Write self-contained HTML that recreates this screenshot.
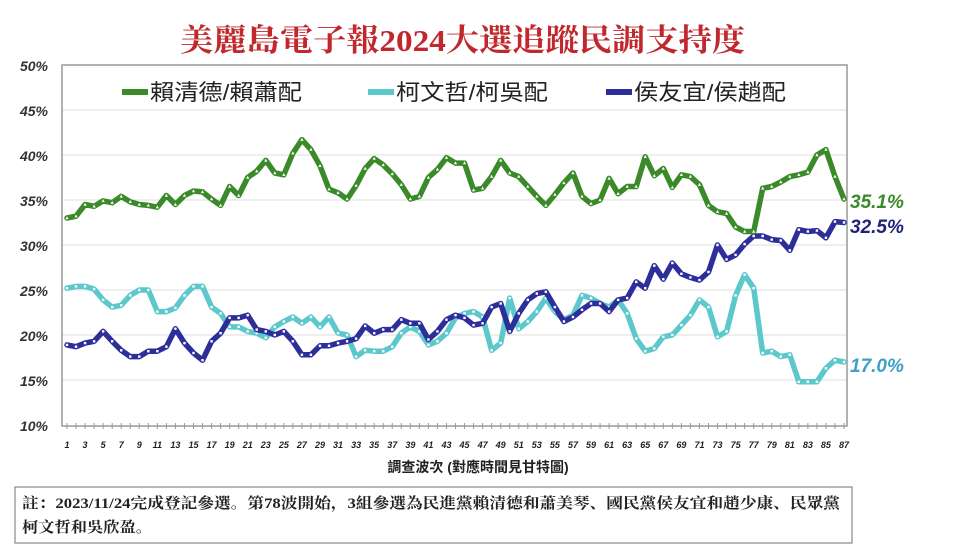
<!DOCTYPE html>
<html><head><meta charset="utf-8">
<style>
body{margin:0;background:#fff;width:970px;height:560px;overflow:hidden;font-family:"Liberation Sans","Noto Sans CJK TC",sans-serif;}
svg{display:block}
</style></head><body>
<svg id="c" width="970" height="560" xmlns="http://www.w3.org/2000/svg">
<text x="180" y="51" textLength="565" lengthAdjust="spacingAndGlyphs" font-family="Liberation Serif,'Noto Serif CJK SC',serif" font-weight="bold" font-size="31" fill="#c0282d">美麗島電子報2024大選追蹤民調支持度</text>
<g id="grid"></g>
<rect x="62" y="65" width="785" height="361" fill="none" stroke="#999" stroke-width="1.5"/>
<g font-size="22" fill="#222">
<line x1="122" y1="92" x2="148" y2="92" stroke="#3a8a2a" stroke-width="6"/><text x="150" y="100" textLength="152" lengthAdjust="spacingAndGlyphs">賴清德/賴蕭配</text>
<line x1="368" y1="92" x2="394" y2="92" stroke="#5cc8cc" stroke-width="6"/><text x="396" y="100" textLength="152" lengthAdjust="spacingAndGlyphs">柯文哲/柯吳配</text>
<line x1="606" y1="92" x2="632" y2="92" stroke="#2e2e9a" stroke-width="6"/><text x="634" y="100" textLength="152" lengthAdjust="spacingAndGlyphs">侯友宜/侯趙配</text>
</g>
<g id="series"></g>
<g font-size="19" font-weight="bold" font-style="italic">
<text x="850" y="208" fill="#3a8a2a">35.1%</text>
<text x="850" y="233" fill="#22227a">32.5%</text>
<text x="850" y="372" fill="#3fa0c8">17.0%</text>
</g>
<text x="478" y="472" text-anchor="middle" font-size="14" font-weight="bold" fill="#222">調查波次 (對應時間見甘特圖)</text>
<rect x="15" y="487" width="837" height="56" fill="#fff" stroke="#888" stroke-width="1.2"/>
<text x="22" y="508" textLength="818" lengthAdjust="spacingAndGlyphs" font-size="15" font-weight="bold" fill="#222" font-family="Liberation Serif,'Noto Serif CJK SC',serif">註：2023/11/24完成登記參選。第78波開始，3組參選為民進黨賴清德和蕭美琴、國民黨侯友宜和趙少康、民眾黨</text>
<text x="22" y="532" textLength="130" lengthAdjust="spacingAndGlyphs" font-size="15" font-weight="bold" fill="#222" font-family="Liberation Serif,'Noto Serif CJK SC',serif">柯文哲和吳欣盈。</text>
</svg>
<script>
var NS="http://www.w3.org/2000/svg";
function el(t,a,p){var e=document.createElementNS(NS,t);for(var k in a)e.setAttribute(k,a[k]);p.appendChild(e);return e;}
var g=document.getElementById('grid');
function Y(v){return 425-(v-10)*9.0;}
function X(i){return 67+(i)*9.035;}
for(var v=10;v<=50;v+=5){
 if(v>10&&v<50) el('line',{x1:62,x2:847,y1:Y(v),y2:Y(v),stroke:'#ddd','stroke-width':1},g);
 var t=el('text',{x:48,y:Y(v)+6,'text-anchor':'end','font-size':14,'font-weight':'bold','font-style':'italic',fill:'#333'},g);t.textContent=v+'%';
}
for(var i=0;i<87;i++){
 el('line',{x1:X(i),x2:X(i),y1:423,y2:429,stroke:'#999','stroke-width':1},g);
 if(i%2==0){var t=el('text',{x:X(i),y:448,'text-anchor':'middle','font-size':9,'font-weight':'bold','font-style':'italic',fill:'#222'},g);t.textContent=(i+1);}
}
var green=[33,33.2,34.5,34.3,34.9,34.7,35.4,34.8,34.5,34.4,34.2,35.5,34.5,35.5,36,35.9,35.1,34.4,36.5,35.5,37.5,38.2,39.4,38,37.8,40.2,41.7,40.6,38.8,36.2,35.8,35.1,36.6,38.5,39.6,38.9,37.9,36.7,35.1,35.4,37.5,38.4,39.7,39.1,39.1,36.1,36.3,37.6,39.4,38,37.6,36.5,35.4,34.4,35.6,36.9,38,35.4,34.6,35,37.4,35.7,36.5,36.5,39.8,37.7,38.5,36.4,37.8,37.6,36.7,34.4,33.7,33.5,32,31.5,31.5,36.3,36.5,37,37.6,37.8,38.1,40,40.6,37.6,35.1];
var blue=[18.9,18.7,19.1,19.3,20.4,19.3,18.3,17.6,17.6,18.2,18.2,18.7,20.7,19.1,18,17.2,19.3,20.2,21.9,21.9,22.2,20.6,20.4,20,20.4,19.3,17.8,17.8,18.8,18.8,19.1,19.3,19.6,21,20.2,20.6,20.6,21.7,21.3,21.3,19.5,20.4,21.7,22.2,21.9,21.1,21.3,23.1,23.5,20.4,22.4,23.9,24.6,24.8,23.1,21.5,22,22.8,23.5,23.5,22.6,23.9,24.1,25.9,25.2,27.7,26.2,28,26.8,26.4,26.1,27,30,28.4,28.9,30.1,31,31,30.6,30.5,29.4,31.7,31.5,31.6,30.8,32.6,32.5];
var cyan=[25.2,25.4,25.4,25.1,23.9,23.1,23.3,24.4,25,25,22.6,22.6,23,24.4,25.4,25.4,23.1,22.4,20.9,20.9,20.4,20.2,19.7,20.9,21.5,22,21.3,22,20.9,22,20.2,20,17.6,18.3,18.2,18.2,18.7,20.2,20.9,20.4,18.9,19.3,20.2,21.9,22.4,22.6,22,18.3,19.1,24.1,20.7,21.5,22.6,24.1,22.6,21.7,22.2,24.4,24.1,23.5,23.1,23.9,22.4,19.6,18.2,18.5,19.8,20,21.1,22.2,23.9,23.1,19.8,20.4,24.4,26.7,25.2,18,18.2,17.6,17.8,14.8,14.8,14.8,16.3,17.2,17];
var s=document.getElementById('series');
function draw(d,col,tri){
 var p=d.map(function(v,i){return X(i).toFixed(1)+','+Y(v).toFixed(1)}).join(' ');
 el('polyline',{points:p,fill:'none',stroke:col,'stroke-width':5.5,'stroke-linejoin':'round','stroke-linecap':'round'},s);
 d.forEach(function(v,i){var x=X(i),y=Y(v);
  if(tri) el('polygon',{points:(x)+','+(y-1.8)+' '+(x-1.6)+','+(y+1.2)+' '+(x+1.6)+','+(y+1.2),fill:'#fff'},s);
  else el('rect',{x:x-1.2,y:y-1.2,width:2.4,height:2.4,fill:'#fff'},s);});
}
draw(cyan,'#5cc8cc',false);
draw(blue,'#2e2e9a',false);
draw(green,'#3a8a2a',true);
</script>
</body></html>
